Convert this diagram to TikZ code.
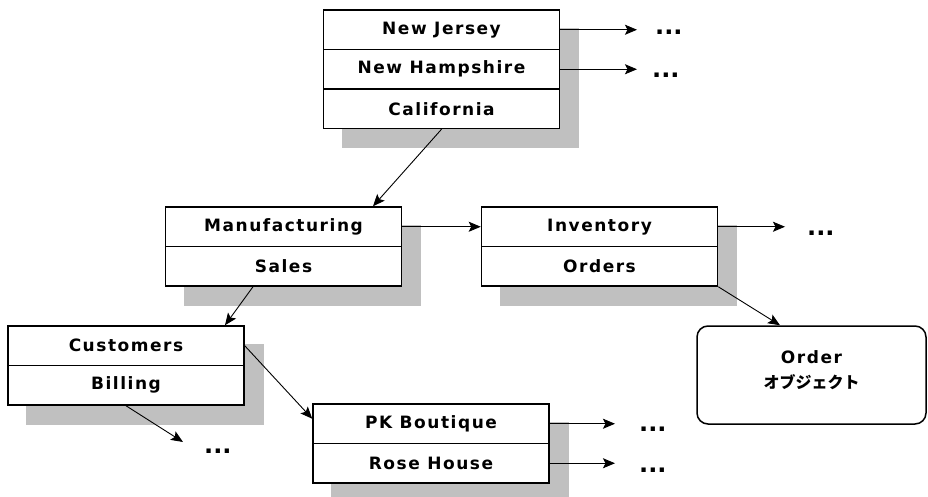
\documentclass[tikz,border=0pt]{standalone}
\usepackage{fontspec}
\setmainfont{DejaVu Sans}
\newfontfamily\lblfont[LetterSpace=9]{DejaVu Sans}
\newfontfamily\jpfont{Noto Sans CJK JP}
\usetikzlibrary{arrows.meta,backgrounds}
\definecolor{shadowgray}{RGB}{192,192,192}
\tikzset{
  row/.style={draw=black, line width=1.5pt, fill=white, minimum width=236pt,
    minimum height=39.5pt, inner sep=0pt,
    font=\lblfont\bfseries\fontsize{17}{17}\selectfont},
  obox/.style={draw=black, line width=1.5pt, fill=white, rounded corners=11pt,
    minimum width=229pt, minimum height=98pt, inner sep=0pt},
  otext/.style={inner sep=0pt, align=center, font=\fontsize{17}{25}\selectfont},
  conn/.style={line width=0.9pt, -{Stealth[length=12pt,width=10pt,inset=2.5pt]}},
  dotsl/.style={font=\bfseries\fontsize{24}{24}\selectfont, inner sep=0pt, anchor=base west},
  shadowbox/.style={fill=shadowgray},
}
\begin{document}
\begin{tikzpicture}[x=1pt,y=-1pt]
\useasboundingbox (0,0) rectangle (928,497);
% states
\node[row] (nj) at (441.5,29.75) {New Jersey};
\node[row] (nh) at (441.5,69.25) {New Hampshire};
\node[row] (ca) at (441.5,108.75) {California};
% departments
\node[row] (mf) at (283.5,226.75) {Manufacturing};
\node[row] (sa) at (283.5,266.25) {Sales};
% sales
\node[row] (iv) at (599.5,226.75) {Inventory};
\node[row] (od) at (599.5,266.25) {Orders};
% customers
\node[row] (cu) at (126,345.75) {Customers};
\node[row] (bi) at (126,385.25) {Billing};
% boutiques
\node[row] (pk) at (431,423.75) {PK Boutique};
\node[row] (rh) at (431,463.25) {Rose House};
% order object
\node[obox] (ob) at (811.5,375) {};
\node[otext] (ot) at (811.5,370)
  {{\lblfont\bfseries Order}\\
   {\jpfont\bfseries\fontsize{16}{25}\selectfont オブジェクト}};
% shadows
\begin{scope}[on background layer]
  \fill[white] (0,0) rectangle (928,497);
  \fill[shadowbox] ([shift={(19pt,-19pt)}]nj.north west) rectangle ([shift={(19pt,-19pt)}]ca.south east);
  \fill[shadowbox] ([shift={(19pt,-19pt)}]mf.north west) rectangle ([shift={(19pt,-19pt)}]sa.south east);
  \fill[shadowbox] ([shift={(19pt,-19pt)}]iv.north west) rectangle ([shift={(19pt,-19pt)}]od.south east);
  \fill[shadowbox] ([shift={(19pt,-19pt)}]cu.north west) rectangle ([shift={(19pt,-19pt)}]bi.south east);
  \fill[shadowbox] ([shift={(19pt,-19pt)}]pk.north west) rectangle ([shift={(19pt,-19pt)}]rh.south east);
\end{scope}
% dots
\node[dotsl] (d1) at (655,35) {...};
\node[dotsl] (d2) at (652,78) {...};
\node[dotsl] (d3) at (807,235) {...};
\node[dotsl] (d4) at (204,453) {...};
\node[dotsl] (d5) at (639,431) {...};
\node[dotsl] (d6) at (639,472) {...};
% free ends
\coordinate (e1) at (637,29.75);
\coordinate (e2) at (637,69.25);
\coordinate (e3) at (785,226.75);
\coordinate (e4) at (183,442);
\coordinate (e5) at (615,423.75);
\coordinate (e6) at (615,463.25);
% connectors
\draw[conn] (nj.east) -- (e1);
\draw[conn] (nh.east) -- (e2);
\draw[conn] (ca.south) -- ([xshift=89.5pt]mf.north);
\draw[conn] (mf.east) -- (iv.west);
\draw[conn] (iv.east) -- (e3);
\draw[conn] (od.south east) -- ([xshift=-31.5pt]ob.north);
\draw[conn] ([xshift=-30.5pt]sa.south) -- ([xshift=99pt]cu.north);
\draw[conn] (cu.east) -- ([yshift=5pt]pk.west);
\draw[conn] (bi.south) -- (e4);
\draw[conn] (pk.east) -- (e5);
\draw[conn] (rh.east) -- (e6);
\end{tikzpicture}
\end{document}
